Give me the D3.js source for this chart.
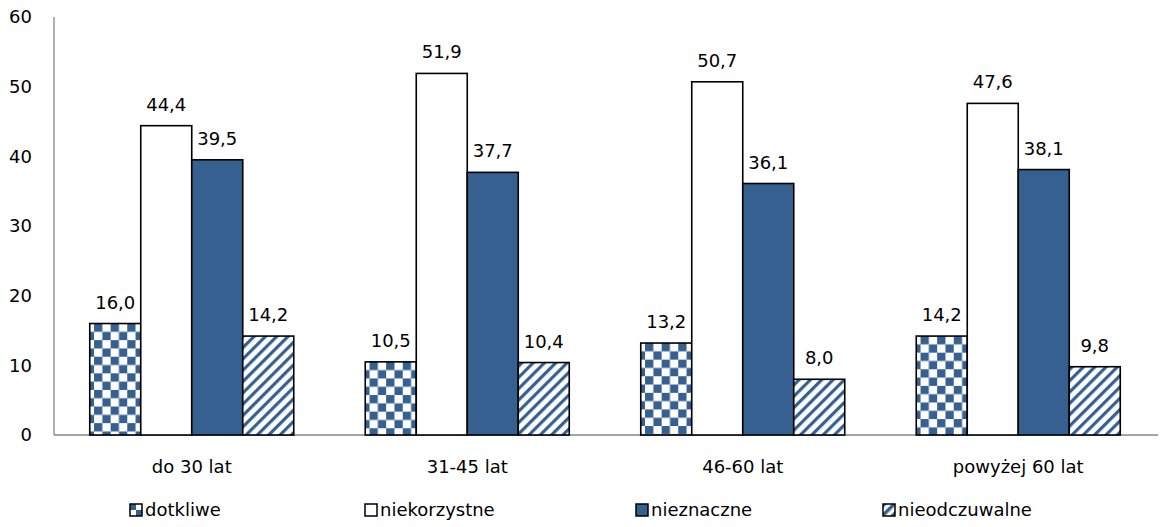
<!DOCTYPE html>
<html><head><meta charset="utf-8">
<script src="https://cdn.jsdelivr.net/npm/d3@7"></script>
<style>body{margin:0;background:#fff}svg{display:block;font-family:"DejaVu Sans",Verdana,sans-serif}</style>
</head><body><svg id="c" width="1161" height="527"></svg>
<script>
const categories = ["do 30 lat", "31-45 lat", "46-60 lat", "powyżej 60 lat"];
const seriesNames = ["dotkliwe", "niekorzystne", "nieznaczne", "nieodczuwalne"];
const dotkliwe = [16.0, 10.5, 13.2, 14.2];
const niekorzystne = [44.4, 51.9, 50.7, 47.6];
const nieznaczne = [39.5, 37.7, 36.1, 38.1];
const nieodczuwalne = [14.2, 10.4, 8.0, 9.8];
const yTicks = [0, 10, 20, 30, 40, 50, 60];

const seriesValues = [dotkliwe, niekorzystne, nieznaczne, nieodczuwalne];
const blue = "#35608f";
const svg = d3.select("#c");
const defs = svg.append("defs");

function checker(id, x, y, cell) {
  const p = defs.append("pattern").attr("id", id).attr("patternUnits","userSpaceOnUse")
    .attr("width", cell*2).attr("height", cell*2).attr("x", x).attr("y", y);
  p.append("rect").attr("width", cell*2).attr("height", cell*2).attr("fill","#fff");
  p.append("rect").attr("width", cell).attr("height", cell).attr("fill", blue);
  p.append("rect").attr("x", cell).attr("y", cell).attr("width", cell).attr("height", cell).attr("fill", blue);
}

const st = defs.append("pattern").attr("id","stripes").attr("patternUnits","userSpaceOnUse")
  .attr("width",8).attr("height",8).attr("patternTransform","rotate(45)");
st.append("rect").attr("width",8).attr("height",8).attr("fill","#fff");
st.append("rect").attr("x",0).attr("width",3.2).attr("height",8).attr("fill",blue);

const x0 = d3.scaleBand().domain(categories).range([54, 1156]).padding(0);
const x1 = d3.scaleBand().domain(seriesNames).range([0, 204]);
const y = d3.scaleLinear().domain([0, 60]).range([435, 17]);

// axes
svg.append("line").attr("x1",54).attr("x2",54).attr("y1",y(60)).attr("y2",y(0)).attr("stroke","#868686").attr("stroke-width",1.3);
svg.append("line").attr("x1",54).attr("x2",1158).attr("y1",y(0)).attr("y2",y(0)).attr("stroke","#868686").attr("stroke-width",1.3);

svg.selectAll(".yt").data(yTicks).join("text")
  .attr("x",32).attr("y",d=>y(d)).attr("dy","0.36em").attr("text-anchor","end")
  .attr("font-size",18).attr("fill","#000").text(d=>d);

svg.selectAll(".xt").data(categories).join("text")
  .attr("x",d=>x0(d)+x0.bandwidth()/2).attr("y",473).attr("text-anchor","middle")
  .attr("font-size",18).attr("fill","#000").text(d=>d);

const fmt = v => v.toFixed(1).replace(".", ",");

categories.forEach((c, ci) => {
  const gx = x0(c) + (x0.bandwidth() - 204) / 2;
  seriesNames.forEach((s, si) => {
    const v = seriesValues[si][ci];
    const bx = gx + x1(s);
    let fill;
    if (si === 0) { const id = "chk" + ci; checker(id, bx + 4.3, y(v), 8.3); fill = `url(#${id})`; }
    else if (si === 1) fill = "#ffffff";
    else if (si === 2) fill = blue;
    else fill = "url(#stripes)";
    svg.append("rect").attr("x",bx).attr("y",y(v)).attr("width",x1.bandwidth()).attr("height",y(0)-y(v))
      .attr("fill",fill).attr("stroke","#000").attr("stroke-width",1.6);
    svg.append("text").attr("x",bx + x1.bandwidth()/2).attr("y",y(v)-15).attr("text-anchor","middle")
      .attr("font-size",18).attr("fill","#000").text(fmt(v));
  });
});

// legend
const legX = [130, 365, 636, 883];
checker("lchk", 130, 504, 6);
const ls = defs.append("pattern").attr("id","lstr").attr("patternUnits","userSpaceOnUse")
  .attr("width",7).attr("height",7).attr("patternTransform","rotate(45)");
ls.append("rect").attr("width",7).attr("height",7).attr("fill","#fff");
ls.append("rect").attr("width",3.5).attr("height",7).attr("fill",blue);
const lfills = ["url(#lchk)", "#fff", blue, "url(#lstr)"];
seriesNames.forEach((s, i) => {
  svg.append("rect").attr("x",legX[i]).attr("y",504).attr("width",12).attr("height",12)
    .attr("fill",lfills[i]).attr("stroke","#000").attr("stroke-width",1.5);
  svg.append("text").attr("x",legX[i]+15).attr("y",510).attr("dy","0.36em")
    .attr("font-size",18).attr("fill","#000").text(s);
});
</script></body></html>
